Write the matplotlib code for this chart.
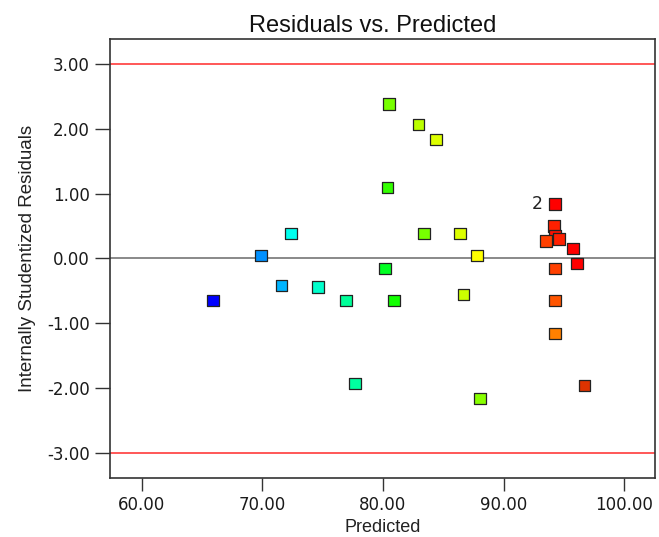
import matplotlib
matplotlib.use("Agg")
import matplotlib.pyplot as plt

# ---- data ----
predicted = [65.91, 69.89, 71.55, 72.37, 74.61, 76.93, 77.68, 80.17, 80.34, 80.50,
             80.91, 82.98, 83.40, 84.39, 86.38, 86.71, 87.79, 88.04,
             94.26, 94.18, 94.26, 94.59, 93.51, 95.75, 96.08, 94.26, 94.26, 94.26, 96.74]
residuals = [-0.65, 0.04, -0.41, 0.39, -0.44, -0.65, -1.92, -0.16, 1.10, 2.38,
             -0.65, 2.06, 0.39, 1.83, 0.39, -0.55, 0.05, -2.15,
             0.84, 0.50, 0.35, 0.30, 0.27, 0.15, -0.08, -0.16, -0.65, -1.15, -1.95]
point_colors = ["#0000ff", "#0090ff", "#00b4ff", "#00ffee", "#00ffcc", "#00ff99", "#00ffa0",
                "#00ff22", "#33ff00", "#77ff00", "#11ff00", "#bbff00", "#77ff00", "#ddff00",
                "#ddff00", "#ccff00", "#ffff00", "#88ff00",
                "#ff0000", "#ff2000", "#ff1000", "#ff2000", "#ff4000", "#ff0000", "#ff0000",
                "#ff4000", "#ff5500", "#ff8000", "#dd3300"]
limit_lines = [3.0, -3.0]
x_ticks = [60, 70, 80, 90, 100]
y_ticks = [-3, -2, -1, 0, 1, 2, 3]
multi_label_index = 18
multi_label_text = "2"

fig = plt.figure(figsize=(6.59, 5.37), dpi=100)
ax = fig.add_axes([0.1675, 0.1105, 0.8268, 0.8168])

for lim in limit_lines:
    ax.axhline(lim, color="#ff2a2a", lw=1.1, zorder=1)
ax.axhline(0, color="#6a6a6a", lw=1.1, zorder=1)

ax.scatter(predicted, residuals, marker="s", s=64, c=point_colors,
           edgecolors="#222222", linewidths=0.9, zorder=3)

ax.annotate(multi_label_text, (predicted[multi_label_index], residuals[multi_label_index]),
            xytext=(-9, 0), textcoords="offset points", ha="right", va="center",
            fontsize=12.5, family="DejaVu Sans", color="#222222")

ax.set_xlim(57.40, 102.57)
ax.set_ylim(-3.376, 3.38)
ax.set_xticks(x_ticks)
ax.set_xticklabels([f"{v:.2f}" for v in x_ticks])
ax.set_yticks(y_ticks)
ax.set_yticklabels([f"{v:.2f}" for v in y_ticks])

for sp in ax.spines.values():
    sp.set_color("#333333")
    sp.set_linewidth(1.2)

ax.tick_params(axis="x", length=9.5, width=1.0, color="#333333", pad=4, labelsize=12)
ax.tick_params(axis="y", length=11, width=1.0, color="#333333", pad=4, labelsize=12)
for lbl in ax.get_xticklabels() + ax.get_yticklabels():
    lbl.set_family("DejaVu Sans")
    lbl.set_color("#1a1a1a")

ax.set_title("Residuals vs. Predicted", family="Liberation Sans", fontsize=17, pad=5,
             color="#111111", x=0.482)
ax.set_xlabel("Predicted", family="Liberation Sans", fontsize=13, labelpad=3, color="#222222")
ax.set_ylabel("Internally Studentized Residuals", family="Liberation Sans", fontsize=13.5,
              labelpad=8, color="#222222")

fig.savefig("out.png", dpi=100)
